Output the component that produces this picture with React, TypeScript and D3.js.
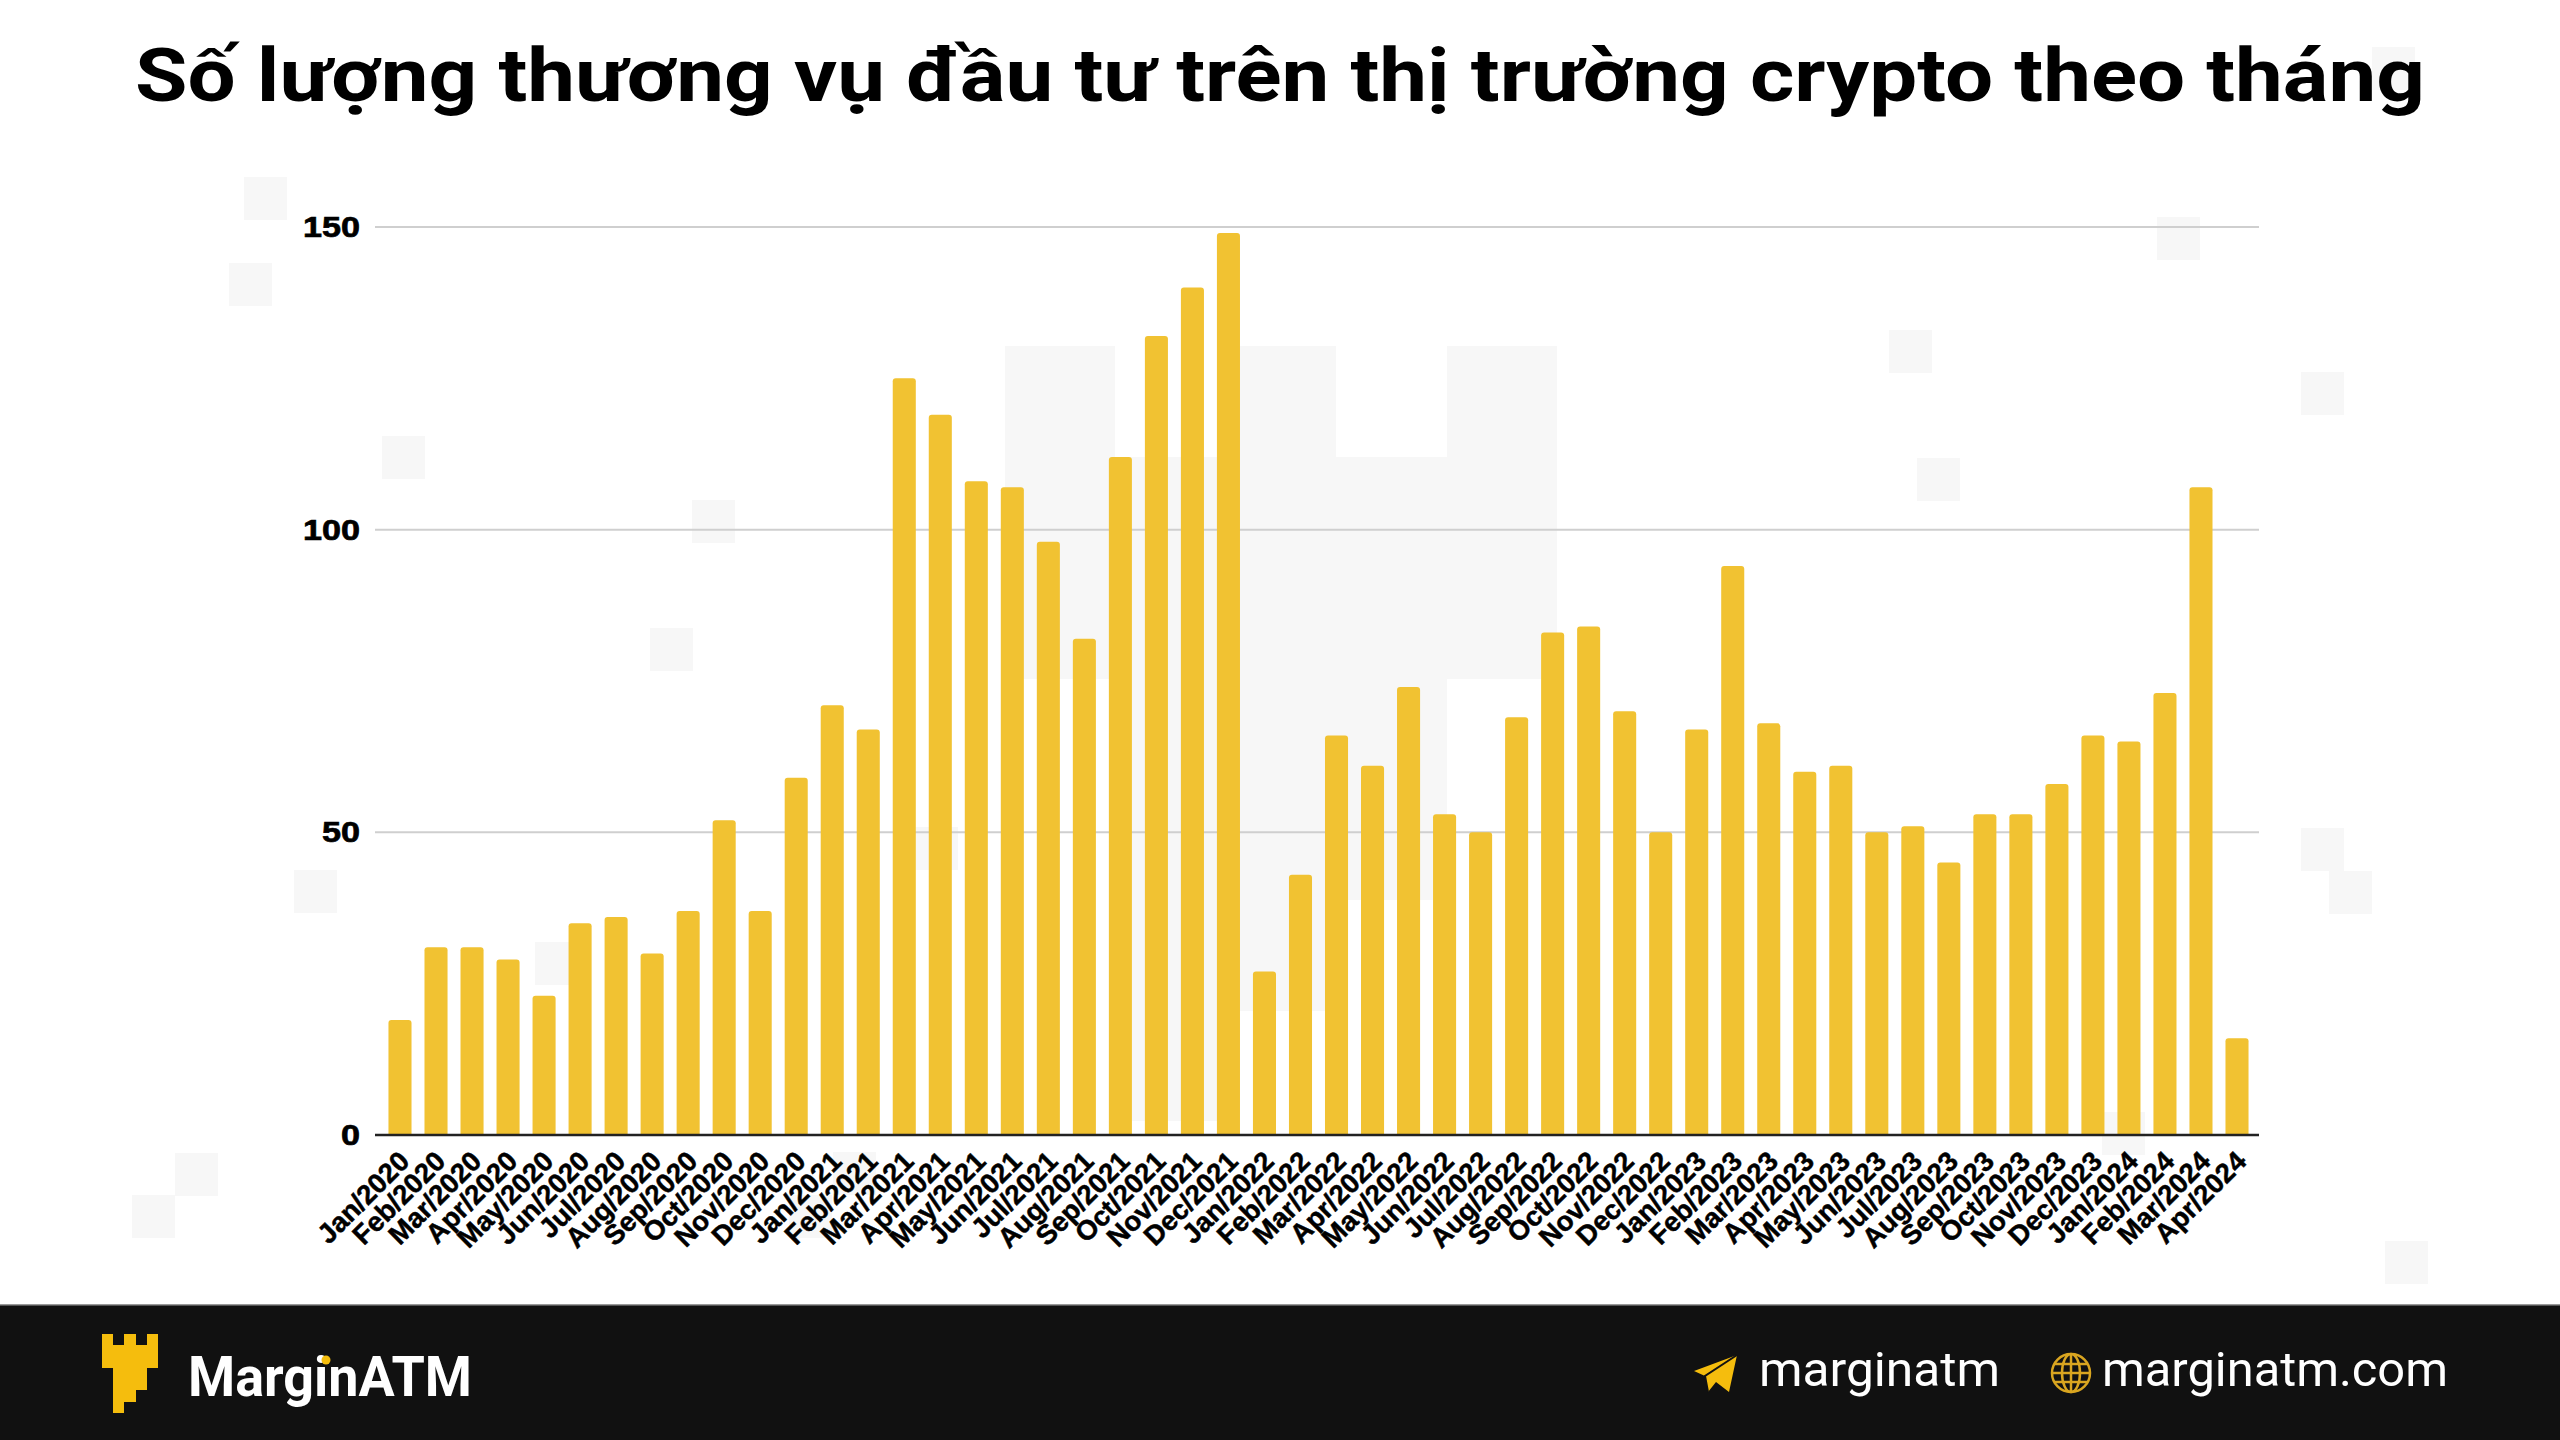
import React from "react";
import * as d3 from "d3";

const monthNames = ["Jan","Feb","Mar","Apr","May","Jun","Jul","Aug","Sep","Oct","Nov","Dec"];
const years = [2020, 2021, 2022, 2023, 2024];
const months = years.flatMap((y) => monthNames.map((m) => `${m}/${y}`)).slice(0, 52);
const deals = [
  19, 31, 31, 29, 23, 35, 36, 30, 37, 52, 37, 59,
  71, 67, 125, 119, 108, 107, 98, 82, 112, 132, 140, 149,
  27, 43, 66, 61, 74, 53, 50, 69, 83, 84, 70, 50,
  67, 94, 68, 60, 61, 50, 51, 45, 53, 53, 58, 66,
  65, 73, 107, 16,
];
const yTicks = [0, 50, 100, 150];
const titleText = "Số lượng thương vụ đầu tư trên thị trường crypto theo tháng";

const squares: [number, number][] = [
  [244, 177], [229, 263], [382, 436], [692, 500], [650, 628], [294, 870], [535, 942],
  [175, 1153], [132, 1195], [833, 1152], [789, 1195], [915, 827],
  [2157, 217], [1889, 330], [1917, 458], [2301, 372], [2301, 828], [2329, 871],
  [2385, 1241], [2102, 1112], [2372, 47],
];
const castle: [number, number][] = [
  [1005, 346], [1115, 346], [1115, 457], [1225, 457], [1225, 346], [1336, 346], [1336, 457],
  [1447, 457], [1447, 346], [1557, 346], [1557, 679], [1447, 679], [1447, 900], [1336, 900],
  [1336, 1011], [1225, 1011], [1225, 1121], [1115, 1121], [1115, 679], [1005, 679],
];
const logo: [number, number][] = [
  [102, 1334], [113, 1334], [113, 1345], [124, 1345], [124, 1334], [136, 1334], [136, 1345],
  [147, 1345], [147, 1334], [158, 1334], [158, 1368], [147, 1368], [147, 1390], [136, 1390],
  [136, 1402], [124, 1402], [124, 1413], [113, 1413], [113, 1368], [102, 1368],
];
const plane: [number, number][] = [
  [1737, 1355], [1729, 1392], [1716, 1382], [1708, 1392], [1705, 1376], [1694, 1371],
];

const poly = d3.line();

export default function App() {
  const x = d3.scaleBand<string>().domain(months).range([375.5, 2261.5]).padding(0.36);
  const y = d3.scaleLinear().domain([0, 150]).range([1135, 227]);
  const r = 3;
  const gold = "#f1c232";
  const bar = (v: number, m: string) => {
    const x0 = x(m)!;
    const w = x.bandwidth();
    const top = y(v);
    const p = d3.path();
    p.moveTo(x0, y(0));
    p.lineTo(x0, top + r);
    p.quadraticCurveTo(x0, top, x0 + r, top);
    p.lineTo(x0 + w - r, top);
    p.quadraticCurveTo(x0 + w, top, x0 + w, top + r);
    p.lineTo(x0 + w, y(0));
    p.closePath();
    return p.toString();
  };
  const sans = "'Liberation Sans', Arial, sans-serif";
  const head = "Roboto, sans-serif";
  return (
    <svg
      width={2560}
      height={1440}
      viewBox="0 0 2560 1440"
      style={{ position: "absolute", left: 0, top: 0, display: "block", background: "#fff" }}
    >
      <rect x={0} y={0} width={2560} height={1440} fill="#fff" />
      {squares.map(([sx, sy], i) => (
        <rect key={i} x={sx} y={sy} width={43} height={43} fill="#f7f7f7" />
      ))}
      <path d={poly(castle)! + "Z"} fill="#f7f7f7" />

      <text x={135} y={101} fontFamily={head} fontWeight={700} fontSize={74} fill="#000"
        textLength={2290} lengthAdjust="spacingAndGlyphs">{titleText}</text>

      {yTicks.filter((t) => t > 0).map((t) => (
        <line key={t} x1={375} x2={2259} y1={y(t)} y2={y(t)} stroke="#cfcfcf" strokeWidth={2} />
      ))}
      {months.map((m, i) => (
        <path key={m} d={bar(deals[i], m)} fill={gold} />
      ))}
      <line x1={375} x2={2259} y1={y(0)} y2={y(0)} stroke="#222" strokeWidth={2.5} />
      {yTicks.map((t) => (
        <text key={t} x={360} y={y(t) + 10} textAnchor="end" fontFamily={sans} fontWeight={700} fontSize={30}
          fill="#000" stroke="#000" strokeWidth={0.7}
          textLength={t === 0 ? 19 : t === 50 ? 38 : 57} lengthAdjust="spacingAndGlyphs">{t}</text>
      ))}
      {months.map((m) => {
        const cx = x(m)! + x.bandwidth() / 2;
        return (
          <text key={m} textAnchor="end" fontFamily={sans} fontWeight={700} fontSize={27.5} fill="#000"
            stroke="#000" strokeWidth={0.5}
            transform={`translate(${cx + 11},${1163}) rotate(-45)`}>{m}</text>
        );
      })}

      <rect x={0} y={1305} width={2560} height={135} fill="#111111" />
      <rect x={0} y={1304} width={2560} height={1.5} fill="#999" />
      <path d={poly(logo)! + "Z"} fill="#f5bd0d" />
      <text x={188} y={1396} fontFamily={head} fontWeight={700} fontSize={56} fill="#fff"
        textLength={284} lengthAdjust="spacingAndGlyphs">MarginATM</text>
      <circle cx={326} cy={1360} r={4.5} fill="#f5bd0d" />
      <path d={poly(plane)! + "Z"} fill="#f5bd0d" />
      <path d="M1737 1355 L1705 1376 L1708 1392" fill="none" stroke="#111" strokeWidth={2} />
      <text x={1759} y={1386} fontFamily={head} fontWeight={400} fontSize={48} fill="#fff"
        textLength={241} lengthAdjust="spacingAndGlyphs">marginatm</text>
      <g fill="none" stroke="#d9a520" strokeWidth={2.5}>
        <circle cx={2071} cy={1373} r={19} />
        <ellipse cx={2071} cy={1373} rx={9} ry={19} />
        <line x1={2052} x2={2090} y1={1373} y2={1373} />
        <line x1={2054} x2={2088} y1={1364} y2={1364} />
        <line x1={2054} x2={2088} y1={1382} y2={1382} />
        <line x1={2071} x2={2071} y1={1354} y2={1392} />
      </g>
      <text x={2102} y={1386} fontFamily={head} fontWeight={400} fontSize={48} fill="#fff"
        textLength={346} lengthAdjust="spacingAndGlyphs">marginatm.com</text>
    </svg>
  );
}
